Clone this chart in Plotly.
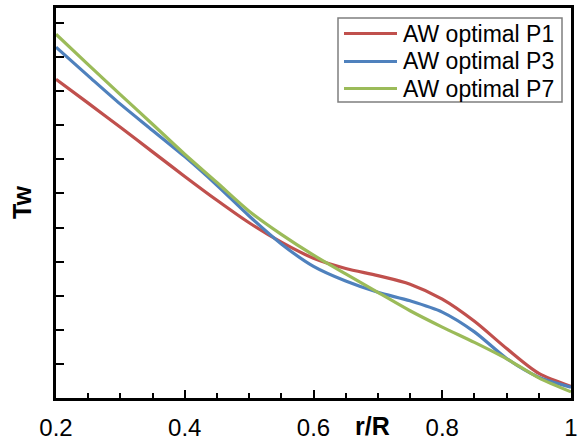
import plotly.graph_objects as go

# Radial stations r/R and wall shear Tw for the three optimal designs
r_R = [0.20, 0.25, 0.30, 0.35, 0.40, 0.45, 0.50, 0.55, 0.60, 0.65,
       0.70, 0.75, 0.80, 0.85, 0.90, 0.95, 1.00]
tw_p1 = [9.35, 8.65, 7.94, 7.22, 6.50, 5.80, 5.14, 4.57, 4.10, 3.80,
         3.59, 3.34, 2.90, 2.25, 1.45, 0.72, 0.34]
tw_p3 = [10.29, 9.45, 8.62, 7.85, 7.08, 6.24, 5.34, 4.52, 3.86, 3.43,
         3.10, 2.85, 2.52, 1.94, 1.16, 0.61, 0.32]
tw_p7 = [10.67, 9.78, 8.90, 8.03, 7.15, 6.32, 5.48, 4.80, 4.19, 3.64,
         3.10, 2.56, 2.08, 1.63, 1.15, 0.59, 0.18]

series_names = ["AW optimal P1", "AW optimal P3", "AW optimal P7"]
series_values = [tw_p1, tw_p3, tw_p7]
series_colors = ["#C0504D", "#4F81BD", "#9BBB59"]

x_major = [0.2, 0.4, 0.6, 0.8, 1.0]
x_major_text = ["0.2", "0.4", "0.6", "0.8", "1"]

FONT = "Liberation Sans, Arial, sans-serif"

fig = go.Figure()
for name, vals, col in zip(series_names, series_values, series_colors):
    fig.add_trace(go.Scatter(
        x=r_R, y=vals, mode="lines", name=name, showlegend=False,
        line=dict(color=col, width=3.2, shape="spline", smoothing=0.8),
    ))

fig.update_layout(
    width=579, height=443,
    margin=dict(l=56, r=8, t=8, b=45, autoexpand=False),
    paper_bgcolor="white", plot_bgcolor="white",
    font=dict(family=FONT, color="black"),
)

fig.update_xaxes(
    range=[0.2, 1.0], showgrid=False, zeroline=False, automargin=False,
    showline=True, linecolor="black", linewidth=2.5, mirror=True,
    tickmode="array", tickvals=x_major, ticktext=x_major_text,
    ticks="inside", ticklen=8, tickwidth=2, tickcolor="black",
    tickfont=dict(size=24, family=FONT), ticklabelstandoff=6,
    minor=dict(dtick=0.05, tick0=0.2, ticks="inside", ticklen=5,
               tickwidth=2, tickcolor="black", showgrid=False),
)
fig.update_yaxes(
    range=[0, 11.44], showgrid=False, zeroline=False, automargin=False,
    showline=True, linecolor="black", linewidth=2.5, mirror=True,
    tick0=0, dtick=1, ticks="inside", ticklen=8, tickwidth=2,
    tickcolor="black", showticklabels=False,
)

# Axis titles
fig.add_annotation(
    text="<b>r/R</b>", xref="x", yref="paper", x=0.691, y=0,
    yanchor="middle", yshift=-28, showarrow=False,
    font=dict(size=25, family=FONT),
)
fig.add_annotation(
    text="<b>Tw</b>", xref="paper", yref="paper", x=0, y=0.5,
    xanchor="center", yanchor="middle", xshift=-34, textangle=-90,
    showarrow=False, font=dict(size=25, family=FONT),
)

# Legend box drawn in pixel terms of the plot area
pw, ph = 579 - 56 - 8, 443 - 8 - 45


def px_x(px):
    return (px - 56) / pw


def px_y(py):
    return (398 - py) / ph


fig.add_shape(type="rect", xref="paper", yref="paper",
              x0=px_x(338), x1=px_x(562), y0=px_y(102), y1=px_y(18),
              line=dict(color="#7f7f7f", width=1.5), fillcolor="white",
              layer="above")
row_y = [33.5, 61.5, 88.5]
for name, col, yy in zip(series_names, series_colors, row_y):
    fig.add_shape(type="line", xref="paper", yref="paper",
                  x0=px_x(344), x1=px_x(397), y0=px_y(yy), y1=px_y(yy),
                  line=dict(color=col, width=3), layer="above")
    fig.add_annotation(text=name, xref="paper", yref="paper",
                       x=px_x(401), y=px_y(yy), xanchor="left",
                       yanchor="middle", showarrow=False,
                       font=dict(size=23, family=FONT))

fig.write_html("out.html")
